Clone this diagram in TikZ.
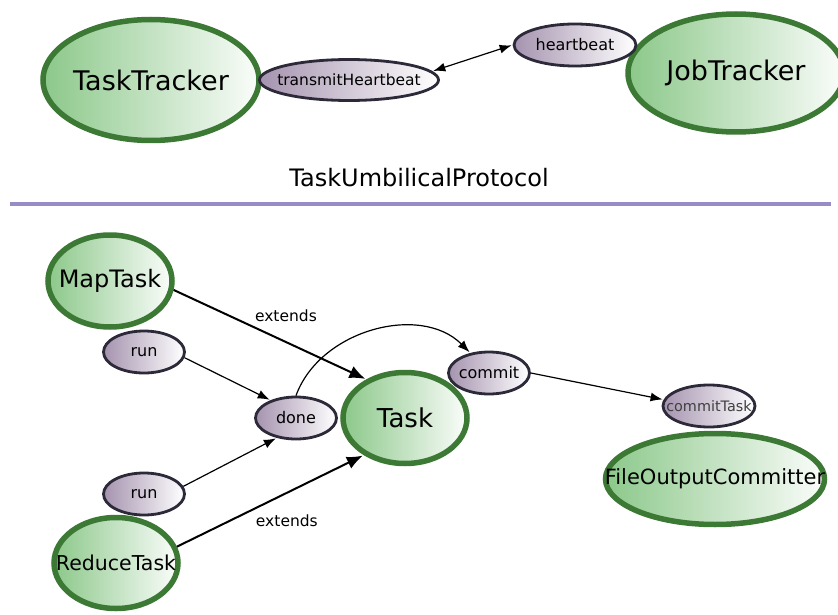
\documentclass[tikz,border=0pt]{standalone}
\usepackage{fontspec}
\setmainfont{DejaVu Sans}
\usetikzlibrary{shapes.geometric,arrows.meta}

\definecolor{classgreen}{HTML}{3C7934}
\definecolor{classfill}{HTML}{8CC88A}
\definecolor{methodborder}{HTML}{2C2939}
\definecolor{methodfill}{HTML}{A593AF}
\definecolor{sepline}{HTML}{978CC5}

\begin{document}
\begin{tikzpicture}[x=1pt,y=1pt,>={Latex[length=12pt,width=9pt]},shorten >=1pt,
    oval/.style={ellipse, inner sep=0pt,
      execute at begin node={\hbox to 0pt\bgroup\hss}, execute at end node={\hss\egroup}},
    class/.style={oval, draw=classgreen, line width=5.5pt, left color=classfill, right color=white!96!classfill},
    method/.style={oval, draw=methodborder, line width=2.8pt, left color=methodfill, right color=white,
      minimum width=81pt, minimum height=42pt, font=\fontsize{16}{19}\selectfont},
    call/.style={line width=1.2pt},
    subclass/.style={line width=2pt, -{Latex[length=16pt,width=13pt]}},
    lbl/.style={font=\fontsize{15.5}{18}\selectfont}]

          \useasboundingbox (0,0) rectangle (838,-615);

          \node[class, minimum width=216pt, minimum height=121pt, font=\fontsize{27}{32}\selectfont] (tt) at (151,-80) {TaskTracker};
          \node[class, minimum width=216pt, minimum height=118pt, font=\fontsize{27}{32}\selectfont] (jt) at (736,-73) {JobTracker};
          \node[method, minimum width=179pt, minimum height=41pt, font=\fontsize{15.5}{18}\selectfont] (th) at (349,-80) {transmitHeartbeat};
          \node[method, minimum width=122pt] (hb) at (575,-45) {heartbeat};
          \node[font=\fontsize{24}{28}\selectfont] (proto) at (419,-178) {TaskUmbilicalProtocol};

          \draw[sepline, line width=4pt] (10,-204) -- (832,-204);

          \node[class, minimum width=124pt, minimum height=92pt, font=\fontsize{24}{28}\selectfont] (map) at (110,-281) {MapTask};
          \node[class, minimum width=124pt, minimum height=91pt, font=\fontsize{26}{30}\selectfont] (task) at (405,-418) {Task};
          \node[class, minimum width=124pt, minimum height=91pt, font=\fontsize{20.5}{24}\selectfont] (reduce) at (116,-563) {ReduceTask};
          \node[class, minimum width=219pt, minimum height=91pt, font=\fontsize{21}{25}\selectfont] (foc) at (715,-479) {FileOutputCommitter};

          \node[method] (run1) at (144,-352) {run};
          \node[method] (run2) at (144,-494) {run};
          \node[method] (done) at (296,-418) {done};
          \node[method] (commit) at (489,-373) {commit};
          \node[method, minimum width=92pt, text=black!75, font=\fontsize{14.4}{17}\selectfont] (ct) at (709,-406) {commitTask};

          \path[->]
          (th.6) edge[<->, shorten <=1pt, call] (hb.west)

          (map.-8) edge[subclass] node[lbl, pos=0.4, above right] {extends} (task.135)
          (reduce.15) edge[subclass] node[lbl, pos=0.4, below right] {extends} (task.222)

          (run1.-8) edge[call] (done.145)
          (run2.11) edge[call] (done.226)
          (done.north) edge[call, out=70, in=135] (commit.133)

          (commit.east) edge[call] (ct.172)
          ;
        \end{tikzpicture}
\end{document}
